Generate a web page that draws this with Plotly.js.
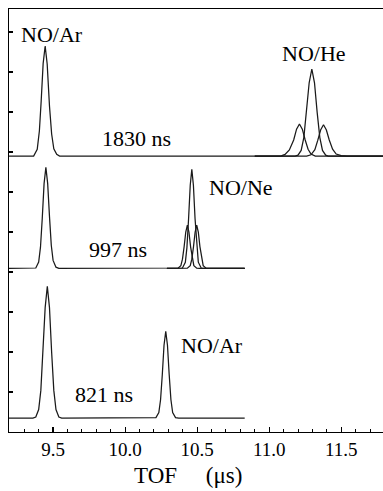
<!DOCTYPE html>
<html>
<head>
<meta charset="utf-8">
<script src="https://cdn.plot.ly/plotly-3.0.1.min.js"></script>
<style>html,body{margin:0;padding:0;background:#fff;}#chart{width:383px;height:491px;}</style>
</head>
<body>
<div id="chart"></div>
<script>
// TOF axis values (microseconds) and signal heights (arb. units)
// Panel 1: 1830 ns delay, NO/Ar + NO/He
const p1MainX = [9.194, 9.365, 9.39, 9.405, 9.4175, 9.431, 9.445, 9.459, 9.475, 9.49, 9.505, 9.525, 9.545, 11.18, 11.2, 11.222, 11.2405, 11.259, 11.2775, 11.296, 11.3145, 11.333, 11.3515, 11.37, 11.392, 11.41, 11.79];
const p1MainY = [0, 0, 0.17, 0.63, 1.38, 2.31, 2.75, 2.3, 1.25, 0.55, 0.18, 0.04, 0, 0, 0.02, 0.14, 0.46, 1.09, 1.83, 2.175, 1.83, 1.09, 0.46, 0.14, 0.02, 0, 0];
const p1LeftX = [10.9, 11.08, 11.11, 11.14, 11.17, 11.19, 11.21, 11.23, 11.25, 11.27, 11.29, 11.32, 11.79];
const p1LeftY = [0, 0, 0.04, 0.15, 0.4, 0.67, 0.8, 0.67, 0.4, 0.17, 0.05, 0, 0];
const p1RightX = [10.9, 11.26, 11.29, 11.317, 11.337, 11.357, 11.377, 11.397, 11.417, 11.44, 11.465, 11.5, 11.54, 11.79];
const p1RightY = [0, 0, 0.03, 0.16, 0.39, 0.65, 0.78, 0.65, 0.4, 0.17, 0.05, 0.01, 0, 0];

// Panel 2: 997 ns delay, NO/Ar + NO/Ne
const p2MainX = [9.194, 9.36, 9.38, 9.4, 9.4125, 9.425, 9.4375, 9.45, 9.4625, 9.475, 9.4875, 9.5, 9.52, 9.54, 10.378, 10.398, 10.418, 10.429, 10.4405, 10.452, 10.463, 10.474, 10.4855, 10.497, 10.508, 10.528, 10.548, 10.83];
const p2MainY = [0, 0, 0.01, 0.16, 0.53, 1.26, 2.12, 2.525, 2.12, 1.3, 0.58, 0.2, 0.03, 0, 0, 0.01, 0.155, 0.52, 1.24, 2.08, 2.475, 2.08, 1.24, 0.52, 0.155, 0.01, 0, 0];
const p2LeftX = [10.29, 10.347, 10.367, 10.387, 10.398, 10.4095, 10.421, 10.432, 10.443, 10.4545, 10.466, 10.477, 10.497, 10.517, 10.83];
const p2LeftY = [0, 0, 0.005, 0.07, 0.23, 0.54, 0.91, 1.08, 0.91, 0.54, 0.23, 0.07, 0.005, 0, 0];
const p2RightX = [10.29, 10.412, 10.432, 10.452, 10.463, 10.4745, 10.486, 10.497, 10.508, 10.5195, 10.531, 10.542, 10.562, 10.582, 10.83];
const p2RightY = [0, 0, 0.005, 0.07, 0.23, 0.54, 0.91, 1.08, 0.91, 0.54, 0.23, 0.07, 0.005, 0, 0];

// Panel 3: 821 ns delay, NO/Ar + NO/Ar
const p3MainX = [9.194, 9.36, 9.38, 9.4, 9.415, 9.43, 9.445, 9.46, 9.475, 9.49, 9.505, 9.52, 9.54, 9.56, 10.192, 10.214, 10.234, 10.246, 10.258, 10.27, 10.282, 10.294, 10.306, 10.318, 10.33, 10.35, 10.372, 10.83];
const p3MainY = [0, 0, 0.025, 0.21, 0.69, 1.645, 2.76, 3.29, 2.76, 1.645, 0.69, 0.21, 0.025, 0, 0, 0.01, 0.135, 0.455, 1.08, 1.82, 2.165, 1.82, 1.08, 0.455, 0.135, 0.01, 0, 0];

// Labels
const panelLabels = ["1830 ns", "997 ns", "821 ns"];
const gasLabels = ["NO/Ar", "NO/He", "NO/Ne", "NO/Ar"];
const xTickVals = [9.5, 10.0, 10.5, 11.0, 11.5];
const xTickText = ["9.5", "10.0", "10.5", "11.0", "11.5"];
const xTitle = "TOF\u00a0\u00a0\u00a0\u00a0\u00a0(\u03bcs)";

// Layout constants (vertical stacking of panels)
const offsets = [6.9, 4.09, 0.35];
const serif = "Liberation Serif, Times New Roman, serif";
const lineStyle = {color: "#1a1a1a", width: 1.25};

function tr(x, y, off) {
  return {x: x, y: y.map(v => v + off), type: "scatter", mode: "lines", line: lineStyle, hoverinfo: "skip", showlegend: false};
}

const data = [
  tr(p1MainX, p1MainY, offsets[0]),
  tr(p1LeftX, p1LeftY, offsets[0]),
  tr(p1RightX, p1RightY, offsets[0]),
  tr(p2MainX, p2MainY, offsets[1]),
  tr(p2LeftX, p2LeftY, offsets[1]),
  tr(p2RightX, p2RightY, offsets[1]),
  tr(p3MainX, p3MainY, offsets[2])
];

const annFont = {family: serif, size: 22, color: "#000"};
function ann(text, x, y) {
  return {text: text, x: x, y: y, xref: "x", yref: "y", showarrow: false, font: annFont, xanchor: "center", yanchor: "middle"};
}

const layout = {
  width: 383, height: 491,
  margin: {l: 9, r: 0, t: 9, b: 59},
  paper_bgcolor: "#fff", plot_bgcolor: "#fff",
  showlegend: false,
  xaxis: {
    range: [9.194, 11.79],
    tickvals: xTickVals, ticktext: xTickText,
    ticks: "inside", ticklen: 5, tickwidth: 1.2, tickcolor: "#000",
    minor: {dtick: 0.1, tick0: 9.0, ticks: "inside", ticklen: 3, tickwidth: 1, tickcolor: "#000", showgrid: false},
    showline: true, linecolor: "#000", linewidth: 1.3, mirror: true,
    showgrid: false, zeroline: false,
    tickfont: {family: serif, size: 19, color: "#000"},
    fixedrange: true
  },
  yaxis: {
    range: [0, 10.575],
    tickvals: [1, 2, 3, 4, 5, 6, 7, 8, 9, 10],
    ticks: "inside", ticklen: 4, tickwidth: 1.1, tickcolor: "#000",
    showticklabels: false,
    showline: true, linecolor: "#000", linewidth: 1.3,
    showgrid: false, zeroline: false,
    fixedrange: true
  },
  annotations: [
    ann(gasLabels[0], 9.493, 9.95),
    ann(gasLabels[1], 11.312, 9.475),
    ann(panelLabels[0], 10.076, 7.35),
    ann(gasLabels[2], 10.805, 6.125),
    ann(panelLabels[1], 9.951, 4.575),
    ann(gasLabels[3], 10.604, 2.175),
    ann(panelLabels[2], 9.854, 0.95),
    {text: xTitle, xref: "paper", yref: "paper", x: 0.479, y: -0.1017,
     showarrow: false, font: {family: serif, size: 23, color: "#000"}, xanchor: "center", yanchor: "middle"}
  ]
};

Plotly.newPlot("chart", data, layout, {displayModeBar: false, staticPlot: true});
</script>
</body>
</html>
